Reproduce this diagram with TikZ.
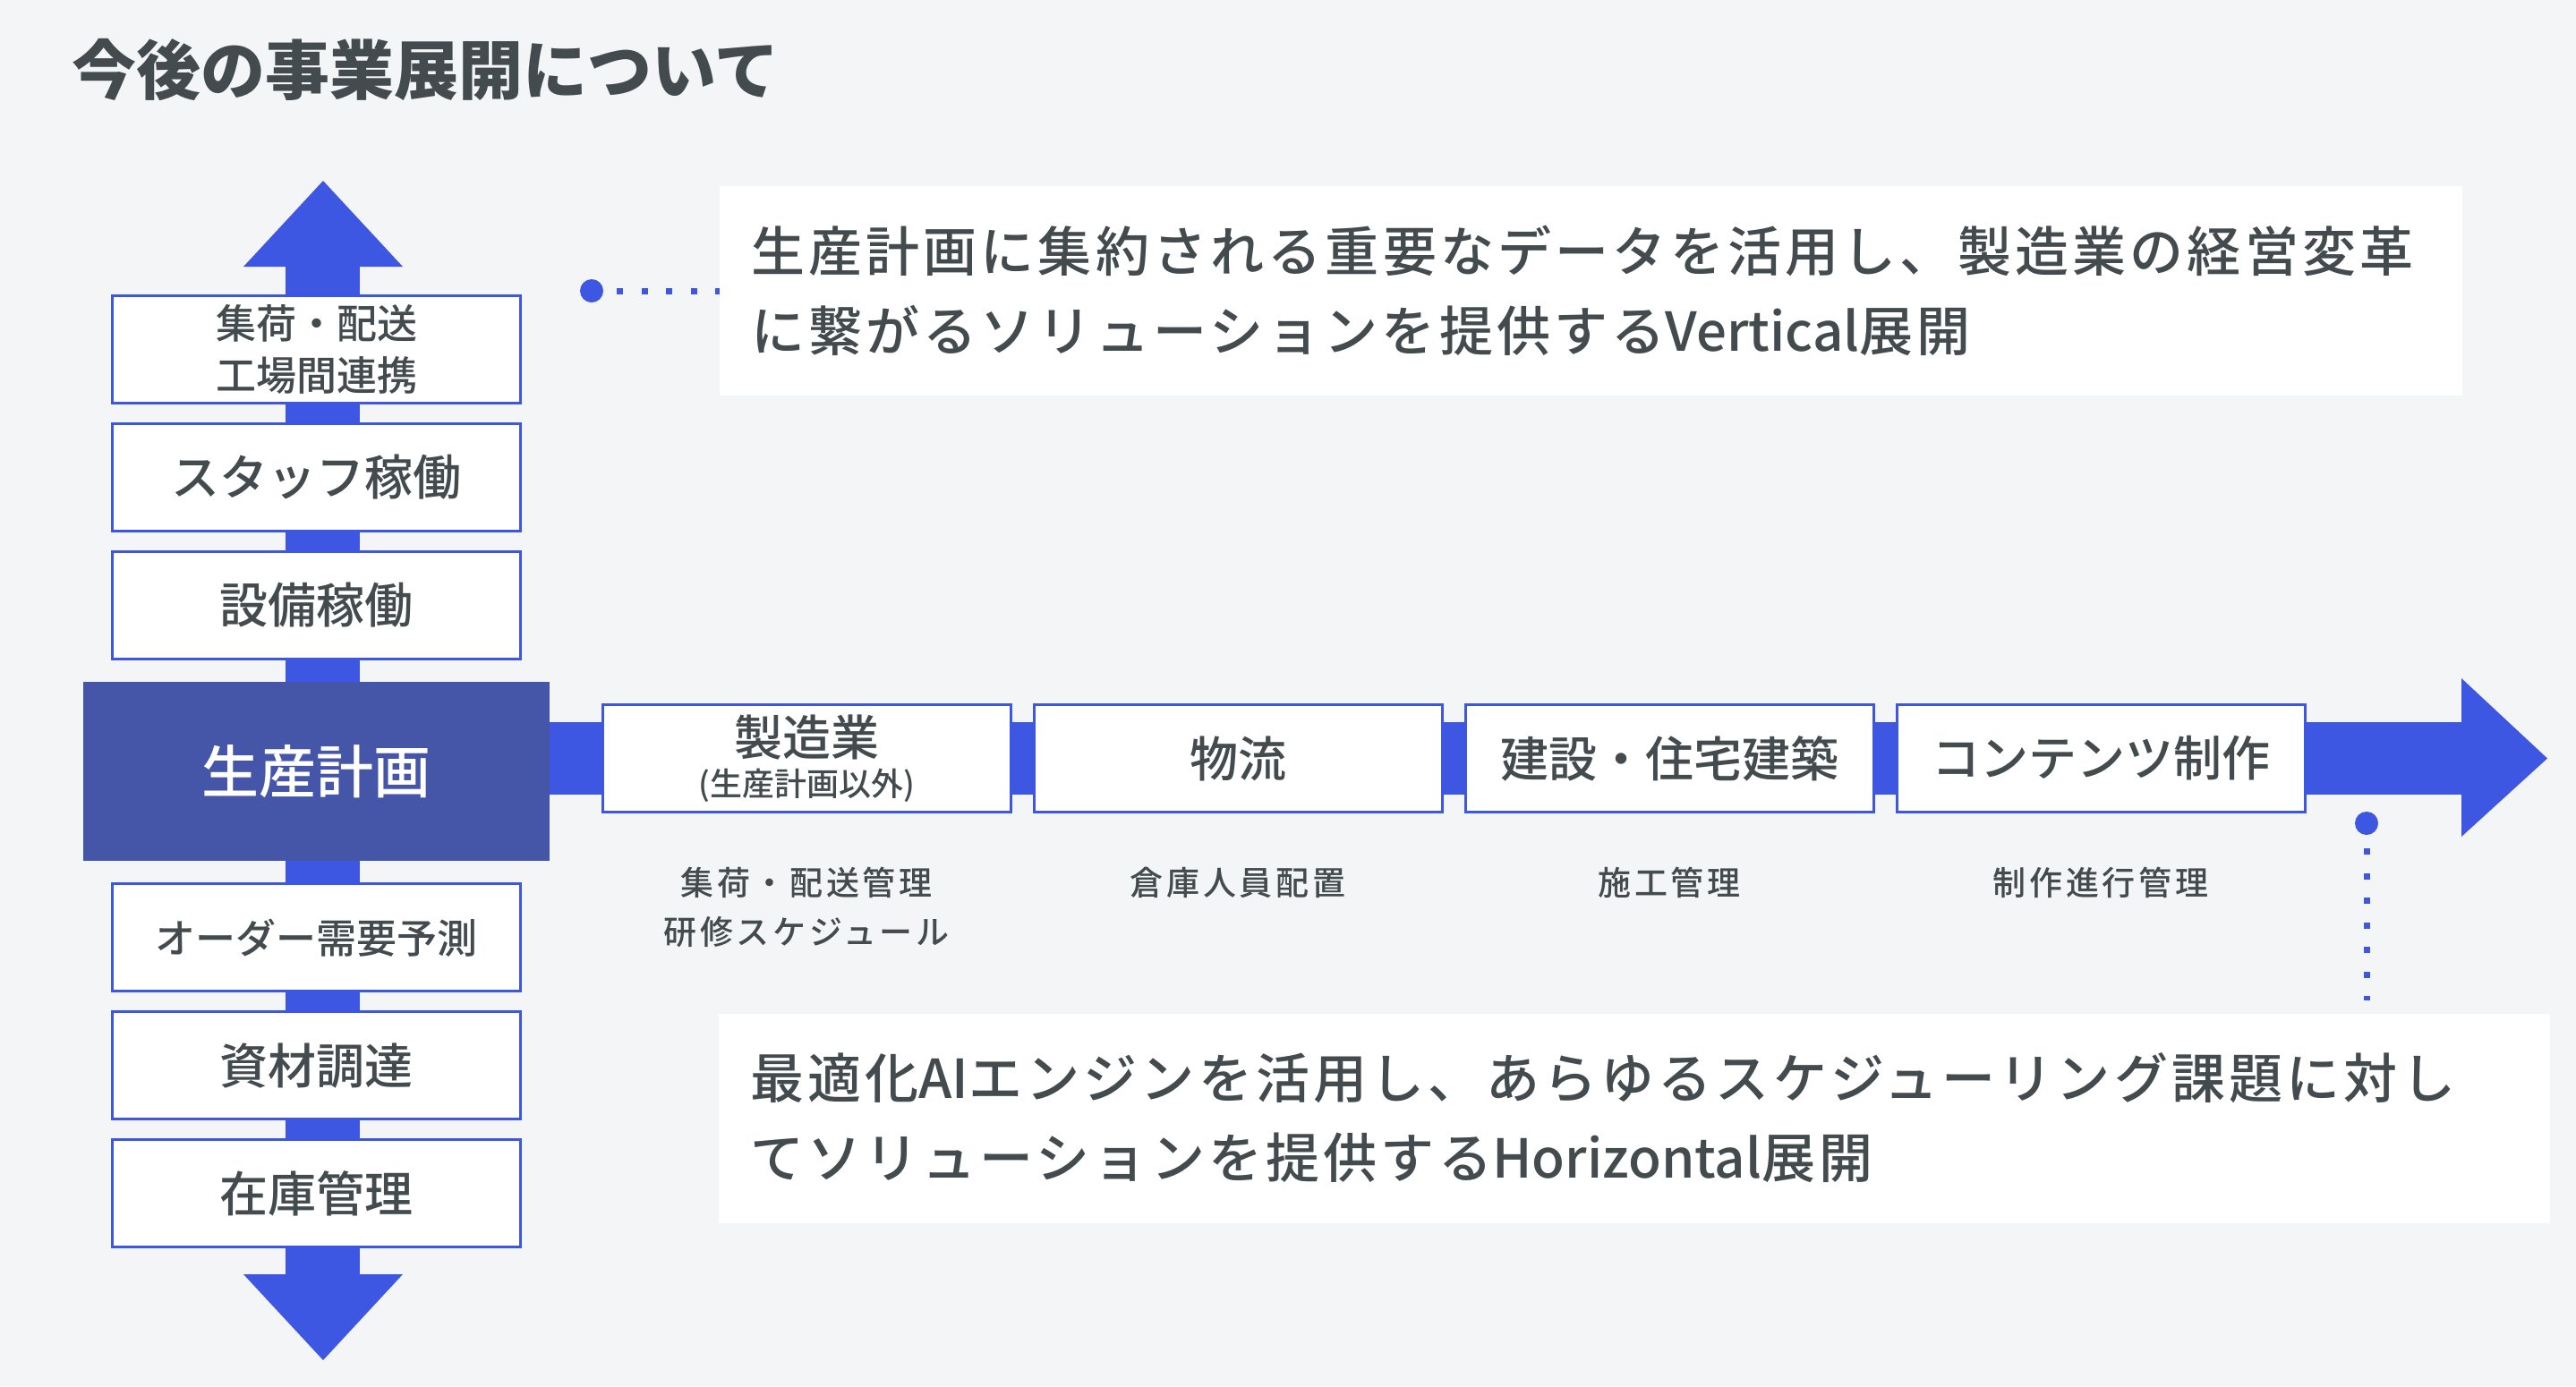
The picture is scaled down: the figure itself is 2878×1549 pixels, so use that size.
\documentclass[tikz,border=0pt]{standalone}
\usepackage{fontspec}
\setmainfont{Noto Sans CJK JP}
\newfontfamily\descfont[LetterSpace=7]{Noto Sans CJK JP Medium}
\newfontfamily\lblfont[LetterSpace=10]{Noto Sans CJK JP Medium}
\newfontfamily\boxfont{Noto Sans CJK JP Medium}
\usetikzlibrary{positioning,calc}

\definecolor{bgcol}{HTML}{F4F5F7}
\definecolor{flowblue}{HTML}{3D57E3}
\definecolor{planfill}{HTML}{4555A8}
\definecolor{inkgray}{HTML}{434B4E}

\begin{document}
\begin{tikzpicture}[
    x=0.5pt, y=-0.5pt,
    node distance=10pt,
    stage/.style={rectangle, draw=flowblue, line width=1.5pt, fill=white, minimum width=228pt, minimum height=60pt, inner sep=0pt, text=inkgray, align=center, font=\boxfont\fontsize{27pt}{32pt}\selectfont},
    plan/.style={rectangle, fill=planfill, minimum width=260.5pt, minimum height=100pt, text=white, font=\boxfont\fontsize{32pt}{38pt}\selectfont},
    desc/.style={rectangle, fill=white, inner xsep=17.5pt, minimum height=117pt, text=inkgray, align=left, font=\descfont\fontsize{30pt}{44.5pt}\selectfont},
    lbl/.style={text=inkgray, align=center, inner sep=0pt, font=\lblfont\fontsize{18.5pt}{27.5pt}\selectfont},
    dotline/.style={flowblue, line width=3.5pt, dash pattern=on 3.5pt off 10.25pt},
    flow/.style={fill=flowblue}
]
    \fill[bgcol] (0,0) rectangle (2878,1549);
    \useasboundingbox (0,0) rectangle (2878,1549);

    \node[anchor=west, inner sep=0pt, text=inkgray, font=\bfseries\fontsize{36pt}{40pt}\selectfont] (title) at (80,78) {今後の事業展開について};

    % big arrows behind the boxes
    \fill[flow] (319,298) rectangle (402,1424);
    \fill[flow] (361,202) -- (450,298) -- (272,298) -- cycle;
    \fill[flow] (361,1520) -- (450,1424) -- (272,1424) -- cycle;
    \fill[flow] (614,807) rectangle (2750,888);
    \fill[flow] (2846,847.5) -- (2750,935) -- (2750,758) -- cycle;

    % vertical
    \node[plan] (plan) at (353.5,862) {生産計画};
    \node[stage, above=12pt of plan] (equip) {設備稼働};
    \node[stage, above=of equip] (staff) {スタッフ稼働};
    \node[stage, above=of staff, font=\boxfont\fontsize{22.5pt}{29pt}\selectfont] (ship) {集荷・配送\\工場間連携};
    \node[stage, below=12pt of plan, font=\boxfont\fontsize{22.5pt}{29pt}\selectfont] (order) {オーダー需要予測};
    \node[stage, below=of order] (supply) {資材調達};
    \node[stage, below=of supply] (stock) {在庫管理};

    % horizontal
    \node[stage] (mfg) at (901,847.5) {製造業\\[-9.5pt]{\fontsize{18pt}{22pt}\selectfont(生産計画以外)}};
    \node[stage, right=11.5pt of mfg] (logi) {物流};
    \node[stage, right=11.5pt of logi] (build) {建設・住宅建築};
    \node[stage, right=11.5pt of build] (media) {コンテンツ制作};

    \node[lbl] (mfgnote) at ($(mfg.south)+(0,104.5)$) {集荷・配送管理\\研修スケジュール};
    \node[lbl] (loginote) at ($(logi.south)+(0,77)$) {倉庫人員配置};
    \node[lbl] (buildnote) at ($(build.south)+(0,77)$) {施工管理};
    \node[lbl] (medianote) at ($(media.south)+(0,77)$) {制作進行管理};

    % callouts
    \node[desc, text width=938.5pt] (vdesc) at (1777.5,325) {生産計画に集約される重要なデータを活用し、製造業の経営変革\\に繋がるソリューションを提供する{\boxfont Vertical}展開};
    \node[desc, text width=988pt] (hdesc) at (1826,1249.5) {最適化{\boxfont AI}エンジンを活用し、あらゆるスケジューリング課題に対し\\てソリューションを提供する{\boxfont Horizontal}展開};

    \coordinate (vdot) at (661,325);
    \coordinate (hdot) at (2644,920);
    \fill[flowblue] (vdot) circle (6.5pt);
    \fill[flowblue] (hdot) circle (6.5pt);
    \draw[dotline] ([xshift=14pt]vdot) -- (vdesc.west);
    \draw[dotline] ([yshift=-14pt]hdot) -- ([yshift=7pt]hdot |- hdesc.north);
\end{tikzpicture}
\end{document}
